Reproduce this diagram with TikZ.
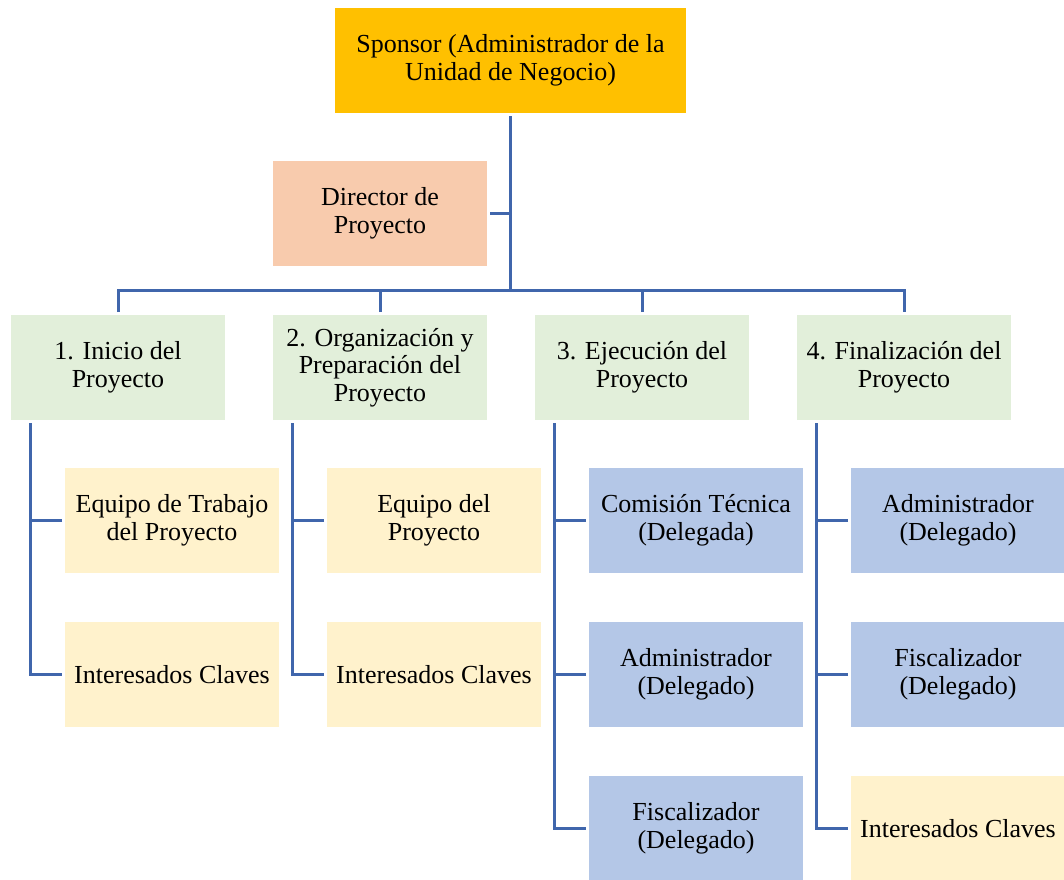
\documentclass[tikz,border=0pt]{standalone}
\usepackage{fontspec}
\newfontfamily\boxfont{Liberation Serif}
\usepackage{tikz}
\usetikzlibrary{positioning}

\definecolor{sponsorfill}{HTML}{FFC000}
\definecolor{directorfill}{HTML}{F8CBAD}
\definecolor{phasefill}{HTML}{E2EFDA}
\definecolor{teamfill}{HTML}{FFF2CC}
\definecolor{rolefill}{HTML}{B4C7E7}
\definecolor{linkcolor}{HTML}{4066AC}

\tikzset{
    box/.style={minimum width=107pt, minimum height=52.5pt, inner sep=2pt,
        align=center, outer sep=1.5pt,
        font=\boxfont\fontsize{13pt}{13.8pt}\selectfont},
    phase/.style={box, fill=phasefill},
    team/.style={box, fill=teamfill},
    role/.style={box, fill=rolefill},
    link/.style={draw=linkcolor, line width=1.5pt},
}

\begin{document}
\begin{tikzpicture}
    \useasboundingbox (0,0) rectangle (532pt,-439.5pt);
    \node (S) [box, fill=sponsorfill, minimum width=175.5pt] at (255.25pt,-30.25pt)
        {Sponsor (Administrador de la\\Unidad de Negocio)};
    \node (P1) [phase] at (59pt,-183.75pt) {1. Inicio del\\Proyecto};
    \node (P2) [phase, right=21pt of P1] {2. Organización y\\Preparación del\\Proyecto};
    \node (P3) [phase, right=21pt of P2] {3. Ejecución del\\Proyecto};
    \node (P4) [phase, right=21pt of P3] {4. Finalización del\\Proyecto};
    \node (D) [box, fill=directorfill, above=21.5pt of P2] {Director de\\Proyecto};

    \node (C11) [team, below=21pt of P1, xshift=27pt] {Equipo de Trabajo\\del Proyecto};
    \node (C12) [team, below=21.5pt of C11] {Interesados Claves};
    \node (C21) [team, below=21pt of P2, xshift=27pt] {Equipo del\\Proyecto};
    \node (C22) [team, below=21.5pt of C21] {Interesados Claves};
    \node (C31) [role, below=21pt of P3, xshift=27pt] {Comisión Técnica\\(Delegada)};
    \node (C32) [role, below=21.5pt of C31] {Administrador\\(Delegado)};
    \node (C33) [role, below=21.5pt of C32] {Fiscalizador\\(Delegado)};
    \node (C41) [role, below=21pt of P4, xshift=27pt] {Administrador\\(Delegado)};
    \node (C42) [role, below=21.5pt of C41] {Fiscalizador\\(Delegado)};
    \node (C43) [team, below=21.5pt of C42] {Interesados Claves};

    % tree lines
    \coordinate (bus) at (0,-145pt);
    \draw [link] (S.south) -- (S.south |- bus);
    \draw [link] (D.east) -- (D.east -| S.south);
    \draw [link] (P1.north) |- (P4.north |- bus) -- (P4.north);
    \draw [link] (P2.north) -- (P2.north |- bus);
    \draw [link] (P3.north) -- (P3.north |- bus);

    % side lines
    \coordinate (R1) at ([xshift=11pt]P1.south west);
    \coordinate (R2) at ([xshift=11pt]P2.south west);
    \coordinate (R3) at ([xshift=11pt]P3.south west);
    \coordinate (R4) at ([xshift=11pt]P4.south west);
    \draw [link] (R1) |- (C12.west);
    \draw [link] (C11.west) -- (C11.west -| R1);
    \draw [link] (R2) |- (C22.west);
    \draw [link] (C21.west) -- (C21.west -| R2);
    \draw [link] (R3) |- (C33.west);
    \draw [link] (C31.west) -- (C31.west -| R3);
    \draw [link] (C32.west) -- (C32.west -| R3);
    \draw [link] (R4) |- (C43.west);
    \draw [link] (C41.west) -- (C41.west -| R4);
    \draw [link] (C42.west) -- (C42.west -| R4);
\end{tikzpicture}
\end{document}
